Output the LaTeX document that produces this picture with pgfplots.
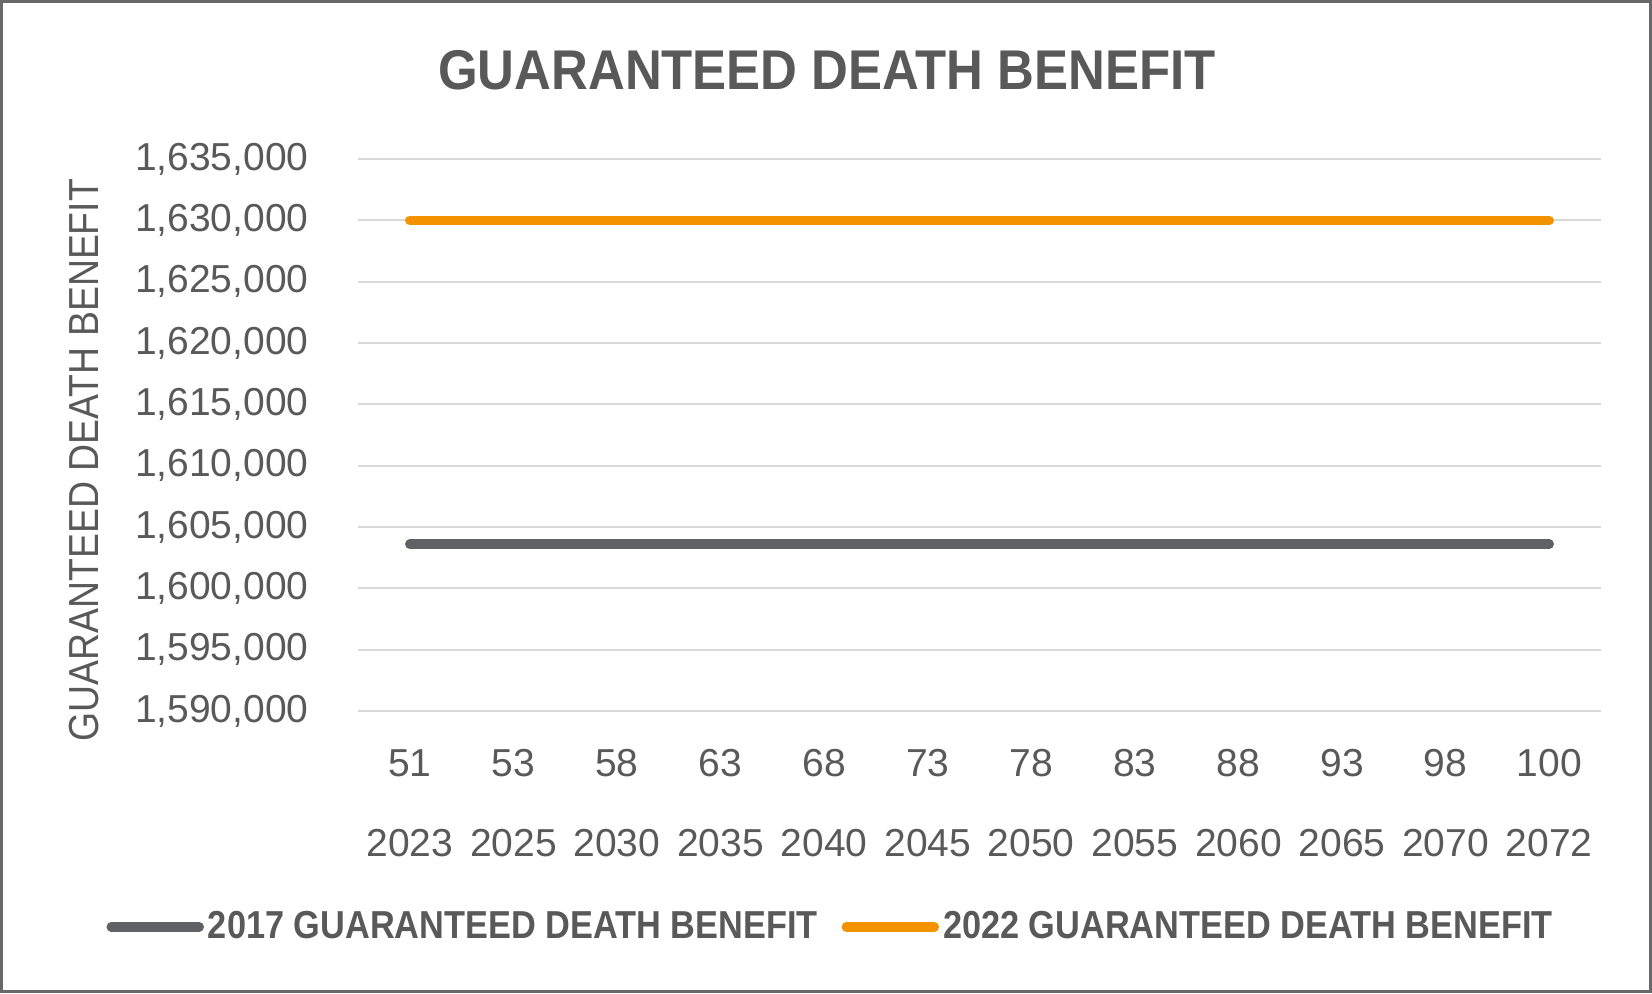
\documentclass[border=0pt]{standalone}
\usepackage{pgfplots}
\pgfplotsset{compat=1.18}
\usepackage{fontspec}
\setmainfont{Liberation Sans}
\newfontfamily\narrowfont[FakeStretch=0.89]{Liberation Sans}
\newfontfamily\legendfont[FakeStretch=0.88]{Liberation Sans}
\newfontfamily\titlefont[FakeStretch=0.91]{Liberation Sans}
\definecolor{txt}{HTML}{595959}
\definecolor{grayline}{HTML}{606165}
\definecolor{orangeline}{HTML}{F39200}
\definecolor{gridc}{HTML}{D9D9D9}
\definecolor{framec}{HTML}{68686A}
\begin{document}
\begin{tikzpicture}
\useasboundingbox (0,0) rectangle (826pt,496.5pt);
\draw[framec, line width=1.5pt] (0.75pt,0.75pt) rectangle (825.25pt,495.75pt);
\node[anchor=base, font=\titlefont\bfseries\fontsize{28}{32}\selectfont, text=txt, inner sep=0pt] at (413.5pt,451.5pt) {GUARANTEED DEATH BENEFIT};
\begin{axis}[
  at={(179pt,141pt)}, anchor=south west,
  scale only axis, width=621.5pt, height=276pt,
  xmin=-0.5, xmax=11.5, ymin=1590000, ymax=1635000,
  axis line style={draw=none},
  major tick length=0pt,
  ymajorgrids, grid style={gridc, line width=1pt},
  ytick={1590000,1595000,1600000,1605000,1610000,1615000,1620000,1625000,1630000,1635000},
  scaled y ticks=false,
  /pgf/number format/fixed,
  /pgf/number format/1000 sep={,},
  /pgf/number format/assume math mode=true,
  yticklabel style={anchor=east, inner sep=0pt, xshift=-24.5pt, font=\fontsize{19.5}{23}\selectfont, text=txt},
  xtick={0,1,2,3,4,5,6,7,8,9,10,11},
  xticklabels={51,53,58,63,68,73,78,83,88,93,98,100},
  xticklabel style={anchor=center, inner sep=0pt, yshift=-26pt, font=\fontsize{19.5}{23}\selectfont, text=txt},
  extra x ticks={0,1,2,3,4,5,6,7,8,9,10,11},
  extra x tick labels={2023,2025,2030,2035,2040,2045,2050,2055,2060,2065,2070,2072},
  extra x tick style={xticklabel style={yshift=-40pt}},
  ylabel={GUARANTEED DEATH BENEFIT},
  ylabel style={at={(axis description cs:-0.2204,0.4547)}, anchor=center, font=\narrowfont\fontsize{21}{25}\selectfont, text=txt},
  legend columns=2,
  legend style={draw=none, fill=none, at={(0.381,-0.391)}, anchor=center,
    font=\legendfont\bfseries\fontsize{19.5}{23}\selectfont, text=txt,
    /tikz/every even column/.append style={column sep=10pt}},
  legend image code/.code={\draw[#1, line cap=round] (0pt,0pt) -- (44pt,0pt);},
]
\addplot[grayline, line width=4.75pt, line cap=round] coordinates {
(0,1603600) (1,1603600) (2,1603600) (3,1603600) (4,1603600) (5,1603600)
(6,1603600) (7,1603600) (8,1603600) (9,1603600) (10,1603600) (11,1603600)};
\addlegendentry{2017 GUARANTEED DEATH BENEFIT}
\addplot[orangeline, line width=4.75pt, line cap=round] coordinates {
(0,1630000) (1,1630000) (2,1630000) (3,1630000) (4,1630000) (5,1630000)
(6,1630000) (7,1630000) (8,1630000) (9,1630000) (10,1630000) (11,1630000)};
\addlegendentry{2022 GUARANTEED DEATH BENEFIT}
\end{axis}
\end{tikzpicture}
\end{document}
